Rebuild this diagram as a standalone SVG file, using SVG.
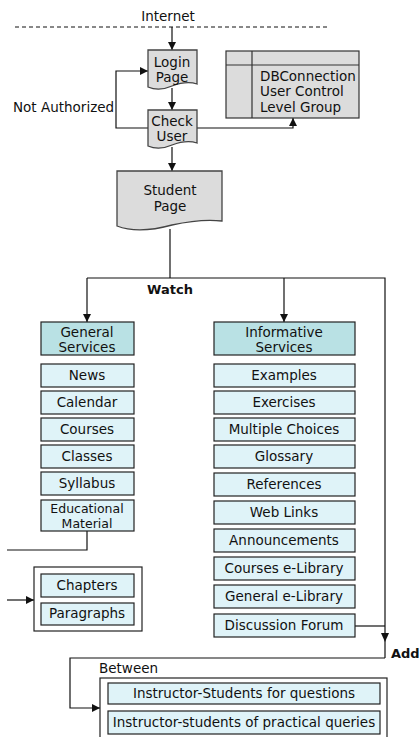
<svg xmlns="http://www.w3.org/2000/svg" width="420" height="737" viewBox="0 0 420 737">
<style>
text{font-family:"DejaVu Sans","Liberation Sans",sans-serif;font-size:13.5px;fill:#111;text-anchor:middle}
.l{text-anchor:start}
.b{font-weight:bold;font-size:13px}
.s{font-size:12.5px}
.doc{fill:#dcdcdc;stroke:#444;stroke-width:1.3}
.hd{fill:#b9e1e4;stroke:#222;stroke-width:1.2}
.it{fill:#dff3f8;stroke:#222;stroke-width:1.2}
.fr{fill:#fff;stroke:#222;stroke-width:1.2}
.db{fill:#dcdcdc;stroke:#333;stroke-width:1.2}
.c{fill:none;stroke:#111;stroke-width:1.2}
</style>
<defs>
<marker id="a" viewBox="0 0 10 10" refX="10" refY="5" markerWidth="8" markerHeight="8" markerUnits="userSpaceOnUse" orient="auto"><path d="M0,0L10,5L0,10z" fill="#111"/></marker>
</defs>
<g id="internet">
<text x="168" y="21" font-size="16.5">Internet</text>
<line x1="15" y1="27" x2="327" y2="27" stroke="#111" stroke-width="1" stroke-dasharray="4,3"/>
</g>
<g id="connectors">
<path class="c" d="M172,27V50" marker-end="url(#a)"/>
<path class="c" d="M172,88V110" marker-end="url(#a)"/>
<path class="c" d="M172,147V171" marker-end="url(#a)"/>
<path class="c" d="M148,128H116V71H148" marker-end="url(#a)"/>
<path class="c" d="M197,128H293V118" marker-end="url(#a)"/>
<path class="c" d="M170,229V278"/>
<path class="c" d="M87,278H385V658"/>
<path class="c" d="M87,278V322" marker-end="url(#a)"/>
<path class="c" d="M284,278V322" marker-end="url(#a)"/>
<path d="M381,633L389,633L385,642Z" fill="#111"/>
<path class="c" d="M355,626H385"/>
<path class="c" d="M385,658H70V708H100" marker-end="url(#a)"/>
<path class="c" d="M87,531V550H7"/>
<path class="c" d="M7,600H34" marker-end="url(#a)"/>
</g>
<g id="not-authorized"><text class="l" x="13" y="112" font-size="13">Not Authorized</text></g>
<g id="watch"><text class="b" x="170" y="294">Watch</text></g>
<g id="add"><text class="b l" x="391" y="658">Add</text></g>
<g id="login-page">
<path class="doc" d="M148,50H197V84C188,81 180,83 172,86C163,90 155,90 148,87Z"/>
<text x="172" y="67">Login</text><text x="172" y="82">Page</text>
</g>
<g id="check-user">
<path class="doc" d="M148,110H197V143C188,140 180,142 172,145C163,149 155,149 148,146Z"/>
<text x="172" y="126">Check</text><text x="172" y="141">User</text>
</g>
<g id="db">
<rect class="db" x="226" y="51" width="133" height="67"/>
<line x1="226" y1="65" x2="359" y2="65" stroke="#333" stroke-width="1.2"/>
<line x1="252" y1="51" x2="252" y2="118" stroke="#333" stroke-width="1.2"/>
<text class="l" x="260" y="81">DBConnection</text>
<text class="l" x="260" y="96">User Control</text>
<text class="l" x="260" y="112">Level Group</text>
</g>
<g id="student-page">
<path class="doc" d="M117,171H222V221C205,219 190,221 172,225C150,231 130,231 117,226Z"/>
<text x="170" y="195">Student</text><text x="170" y="211">Page</text>
</g>
<g id="general-services">
<rect class="hd" x="41" y="322" width="93" height="33"/>
<text x="87" y="337">General</text><text x="87" y="352">Services</text>
</g>
<g id="informative-services">
<rect class="hd" x="214" y="322" width="141" height="33"/>
<text x="284" y="337">Informative</text><text x="284" y="352">Services</text>
</g>
<g id="news"><rect class="it" x="41" y="364" width="93" height="23"/><text x="87" y="380">News</text></g>
<g id="calendar"><rect class="it" x="41" y="391" width="93" height="23"/><text x="87" y="407">Calendar</text></g>
<g id="courses"><rect class="it" x="41" y="418" width="93" height="23"/><text x="87" y="434">Courses</text></g>
<g id="classes"><rect class="it" x="41" y="445" width="93" height="23"/><text x="87" y="461">Classes</text></g>
<g id="syllabus"><rect class="it" x="41" y="472" width="93" height="23"/><text x="87" y="488">Syllabus</text></g>
<g id="educational-material"><rect class="it" x="41" y="500" width="93" height="31"/><text class="s" x="87" y="513">Educational</text><text class="s" x="87" y="528">Material</text></g>
<g id="examples"><rect class="it" x="214" y="364" width="141" height="23"/><text x="284" y="380">Examples</text></g>
<g id="exercises"><rect class="it" x="214" y="391" width="141" height="23"/><text x="284" y="407">Exercises</text></g>
<g id="multiple-choices"><rect class="it" x="214" y="418" width="141" height="23"/><text x="284" y="434">Multiple Choices</text></g>
<g id="glossary"><rect class="it" x="214" y="445" width="141" height="23"/><text x="284" y="461">Glossary</text></g>
<g id="references"><rect class="it" x="214" y="473" width="141" height="23"/><text x="284" y="489">References</text></g>
<g id="web-links"><rect class="it" x="214" y="501" width="141" height="23"/><text x="284" y="517">Web Links</text></g>
<g id="announcements"><rect class="it" x="214" y="529" width="141" height="23"/><text x="284" y="545">Announcements</text></g>
<g id="courses-elibrary"><rect class="it" x="214" y="557" width="141" height="23"/><text x="284" y="573">Courses e-Library</text></g>
<g id="general-elibrary"><rect class="it" x="214" y="585" width="141" height="23"/><text x="284" y="601">General e-Library</text></g>
<g id="discussion-forum"><rect class="it" x="214" y="614" width="141" height="23"/><text x="284" y="630">Discussion Forum</text></g>
<g id="chapters-group">
<rect class="fr" x="34" y="567" width="108" height="64"/>
<rect class="it" x="41" y="574" width="93" height="23"/><text x="87" y="590">Chapters</text>
<rect class="it" x="41" y="603" width="93" height="22"/><text x="87" y="618">Paragraphs</text>
</g>
<g id="between-group">
<text class="l" x="99" y="673">Between</text>
<rect class="fr" x="100" y="678" width="287" height="70"/>
<rect class="it" x="108" y="683" width="272" height="21"/><text x="244" y="698">Instructor-Students for questions</text>
<rect class="it" x="108" y="711" width="272" height="23"/><text x="244" y="727">Instructor-students of practical queries</text>
</g>
</svg>
